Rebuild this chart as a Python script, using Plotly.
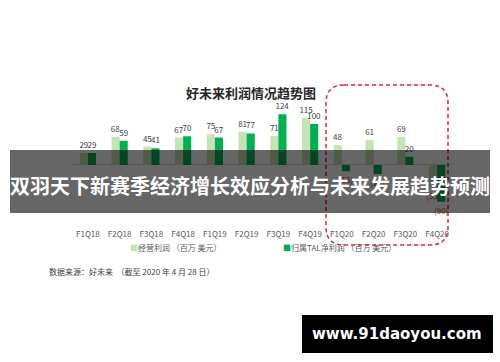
import plotly.graph_objects as go

# Quarterly profit of TAL Education (million USD)
quarters = ["F1Q18", "F2Q18", "F3Q18", "F4Q18", "F1Q19", "F2Q19",
            "F3Q19", "F4Q19", "F1Q20", "F2Q20", "F3Q20", "F4Q20"]
operating_profit = [29, 68, 45, 67, 75, 81, 71, 115, 48, 61, 69, -53]
net_profit_tal = [29, 59, 41, 70, 67, 77, 124, 100, -15, -22, 20, -90]

name_operating = "经营利润 （百万 美元）"
name_net = "归属TAL净利润 （百万 美元）"
chart_title = "好未来利润情况趋势图"
banner_text = "双羽天下新赛季经济增长效应分析与未来发展趋势预测"
source_text = "数据来源：好未来  （截至 2020 年 4 月 28 日）"
site_text = "www.91daoyou.com"

W, H = 500, 362
FONT = "Noto Sans CJK SC"
LIGHT = "#c5e3b5"
DARK = "#00b050"
LABEL = "#404040"
NEG = "#c0504d"


def px(x, y):
    """Pixel position -> paper coordinates (margins are zero)."""
    return x / W, 1 - y / H


def fmt(v):
    return f"({abs(v)})" if v < 0 else str(v)


y_range = [-154, 150]
plot_left, plot_right = 72, 453
plot_top, plot_bottom = 103.5, 228.1

fig = go.Figure()
for vals, color, name in [(operating_profit, LIGHT, name_operating),
                          (net_profit_tal, DARK, name_net)]:
    fig.add_trace(go.Bar(
        x=quarters, y=vals, name=name, marker=dict(color=color, line=dict(width=0)),
        text=[fmt(v) for v in vals], textposition="outside",
        textfont=dict(size=8, family=FONT, color=[NEG if v < 0 else LABEL for v in vals]),
        constraintext="none", cliponaxis=False, showlegend=False,
    ))

fig.update_layout(
    width=W, height=H, margin=dict(l=0, r=0, t=0, b=0),
    paper_bgcolor="white", plot_bgcolor="white",
    barmode="group", bargap=0.49, bargroupgap=0,
    font=dict(family=FONT),
    xaxis=dict(domain=[plot_left / W, plot_right / W], showgrid=False, showline=False,
               ticks="", tickfont=dict(size=8, color="#595959"), fixedrange=True),
    yaxis=dict(domain=[1 - plot_bottom / H, 1 - plot_top / H], range=y_range,
               showgrid=False, showticklabels=False, zeroline=True,
               zerolinecolor="#d9d9d9", zerolinewidth=1, fixedrange=True),
)


def note(x, y, text, size, color, family=FONT, xanchor="center"):
    ax, ay = px(x, y)
    return dict(x=ax, y=ay, xref="paper", yref="paper", xanchor=xanchor, yanchor="middle",
                text=text, showarrow=False, font=dict(size=size, color=color, family=family))


annotations = [
    # chart title
    note(251, 93, f"<b>{chart_title}</b>", 13, "#262626"),
    # data source
    note(47, 271, source_text, 8, "#404040", xanchor="left"),
    # headline banner
    note(250, 185, f"<b>{banner_text}</b>", 20, "white"),
    # site tag
    note(397, 334, f"<b>{site_text}</b>", 15, "white", family="DejaVu Sans"),
]
# legend drawn as text entries
for sx, color, name in [(128, LIGHT, name_operating), (281, DARK, name_net)]:
    annotations.append(note(sx, 247, f"<span style='color:{color}'>■</span>{name}",
                            8, "#595959", xanchor="left"))

fig.update_layout(annotations=annotations)

shapes = []
# dashed rounded frame around fiscal 2020
l, r, t, b, rad = 326, 448, 85, 245, 18


def P(x, y):
    a, c = px(x, y)
    return f"{a:.5f},{c:.5f}"


path = (f"M{P(l + rad, t)} L{P(r - rad, t)} Q{P(r, t)} {P(r, t + rad)} "
        f"L{P(r, b - rad)} Q{P(r, b)} {P(r - rad, b)} L{P(l + rad, b)} "
        f"Q{P(l, b)} {P(l, b - rad)} L{P(l, t + rad)} Q{P(l, t)} {P(l + rad, t)} Z")
shapes.append(dict(type="path", xref="paper", yref="paper", path=path, layer="above",
                   line=dict(color="#e3262f", width=1.5, dash="4px,3px")))

x0, y1 = px(10, 150)
x1, y0 = px(490, 213)
shapes.append(dict(type="rect", xref="paper", yref="paper", x0=x0, x1=x1, y0=y0, y1=y1,
                   fillcolor="rgba(0,0,0,0.6)", line=dict(width=0), layer="above"))

x0, y1 = px(302, 315)
x1, y0 = px(493, 353)
shapes.append(dict(type="rect", xref="paper", yref="paper", x0=x0, x1=x1, y0=y0, y1=y1,
                   fillcolor="black", line=dict(width=0), layer="above"))

fig.update_layout(shapes=shapes)
fig.write_html("out.html")
